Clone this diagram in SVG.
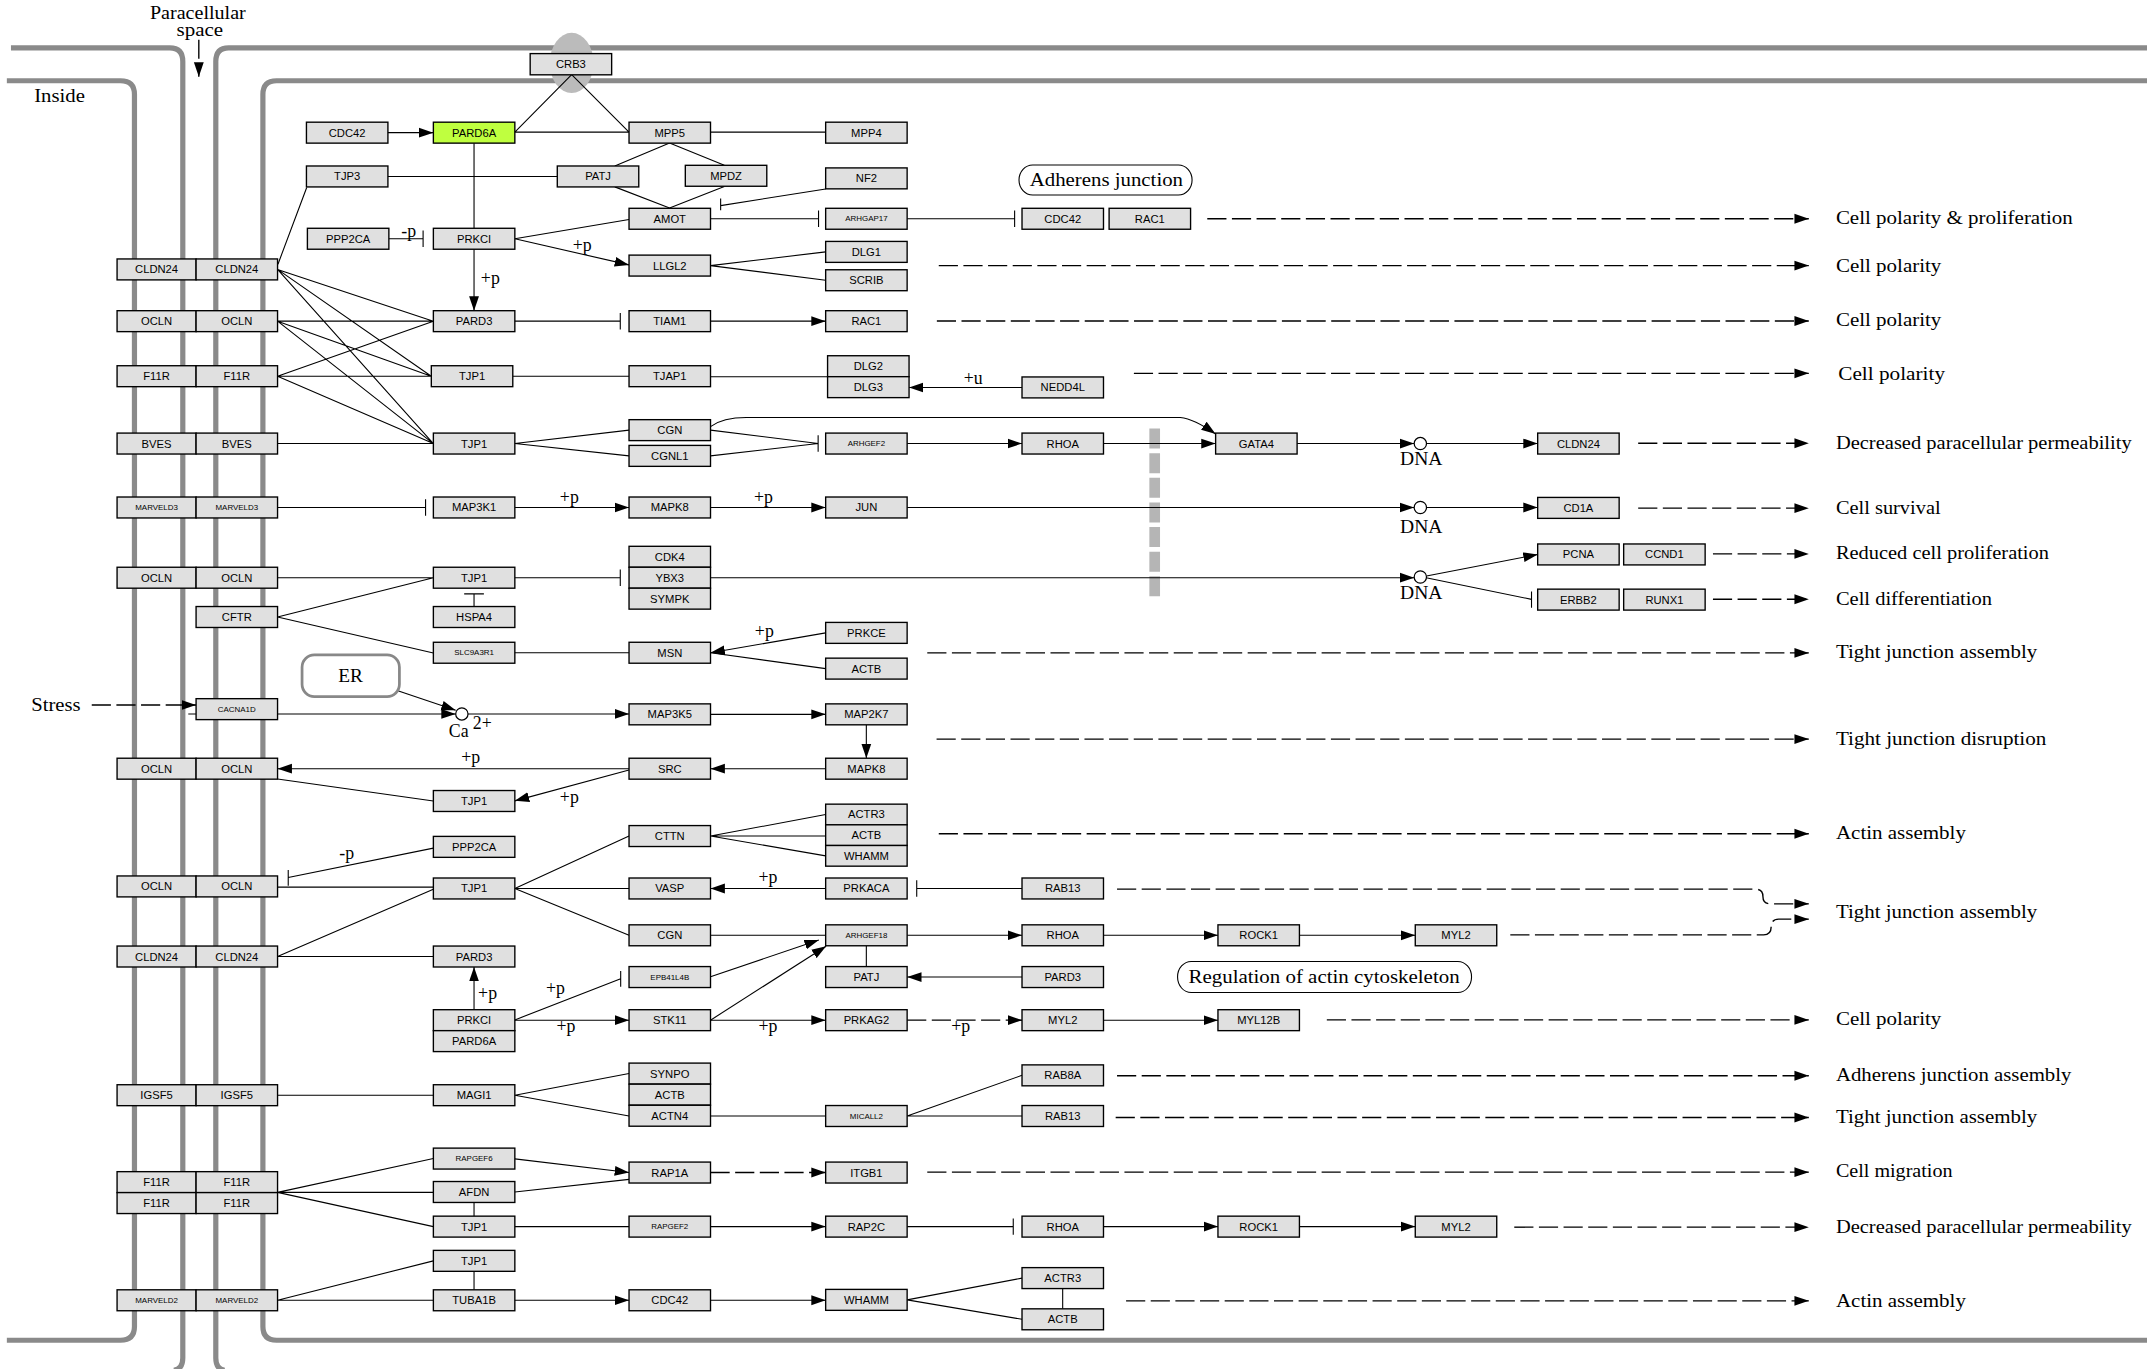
<svg xmlns="http://www.w3.org/2000/svg" width="2147" height="1369" viewBox="0 0 2147 1369">
<defs>
<style>
.n{fill:#e0e0e0;stroke:#000;stroke-width:1}
.gr{fill:#bfff3f}
.t{font-family:"Liberation Sans",Arial,sans-serif;font-size:8.2px;text-anchor:middle;dominant-baseline:central;fill:#000}
.s{font-size:5.8px}
.l{fill:none;stroke:#000;stroke-width:0.8}
.a{marker-end:url(#ah)}
.d{fill:none;stroke:#000;stroke-width:1;stroke-dasharray:14 4}
.m{fill:none;stroke:#8a8a8a;stroke-width:3.8}
.sf{font-family:"Liberation Serif","Times New Roman",serif;font-size:13px;dominant-baseline:central;fill:#000}
.pm{font-family:"Liberation Serif","Times New Roman",serif;font-size:13px;dominant-baseline:central;text-anchor:middle;fill:#000}
.rb{fill:#fff;stroke:#000;stroke-width:0.8}
</style>
<marker id="ah" markerUnits="userSpaceOnUse" markerWidth="11" markerHeight="8" refX="10.5" refY="4" orient="auto"><path d="M0,0.4 L10.5,4 L0,7.6z" fill="#000"/></marker>
</defs>
<rect width="2147" height="1369" fill="#fff"/>
<g transform="scale(1.36926,1.369)">
<g id="membrane">
<path class="m" d="M8,35 H124 Q133.5,35 133.5,45 V992 Q133.5,1000 127,1001"/>
<path class="m" d="M1568,35 H167 Q157.6,35 157.6,45 V992 Q157.6,1000 164,1001"/>
<path class="m" d="M5,59 H88 Q98.2,59 98.2,69 V969 Q98.2,979 88,979 H5"/>
<path class="m" d="M1568,59 H202 Q192,59 192,69 V969 Q192,979 202,979 H1568"/>
<ellipse cx="417.5" cy="46" rx="16" ry="22" fill="#bbbbbb"/>
<path d="M843.3,313V436" fill="none" stroke="#b5b5b5" stroke-width="7.8" stroke-dasharray="14.6 3.4"/>
</g>
<g id="labels">
<text class="sf" x="144.5" y="9.4" text-anchor="middle" font-size="8.4" textLength="70" lengthAdjust="spacingAndGlyphs">Paracellular</text>
<text class="sf" x="146" y="21.9" text-anchor="middle" font-size="8.4" textLength="34" lengthAdjust="spacingAndGlyphs">space</text>
<text class="sf" x="25" y="69.9" textLength="37" lengthAdjust="spacingAndGlyphs">Inside</text>
<text class="sf" x="22.8" y="515" textLength="36" lengthAdjust="spacingAndGlyphs">Stress</text>
<text class="sf" x="327.8" y="534" font-size="12">Ca</text>
<text class="sf" x="345.3" y="528" font-size="11">2+</text>
<text class="sf" x="1022.5" y="335.2" textLength="31" lengthAdjust="spacingAndGlyphs">DNA</text>
<text class="sf" x="1022.5" y="385.1" textLength="31" lengthAdjust="spacingAndGlyphs">DNA</text>
<text class="sf" x="1022.5" y="433.3" textLength="31" lengthAdjust="spacingAndGlyphs">DNA</text>
<text class="sf" x="1340.8" y="159.5" textLength="173" lengthAdjust="spacingAndGlyphs">Cell polarity &amp; proliferation</text>
<text class="sf" x="1340.8" y="194" textLength="77" lengthAdjust="spacingAndGlyphs">Cell polarity</text>
<text class="sf" x="1340.8" y="234" textLength="77" lengthAdjust="spacingAndGlyphs">Cell polarity</text>
<text class="sf" x="1342.5" y="273" textLength="78" lengthAdjust="spacingAndGlyphs">Cell polarity</text>
<text class="sf" x="1340.8" y="323.5" textLength="216" lengthAdjust="spacingAndGlyphs">Decreased paracellular permeability</text>
<text class="sf" x="1340.8" y="371" textLength="76.5" lengthAdjust="spacingAndGlyphs">Cell survival</text>
<text class="sf" x="1340.8" y="404.3" textLength="155.6" lengthAdjust="spacingAndGlyphs">Reduced cell proliferation</text>
<text class="sf" x="1340.8" y="437.5" textLength="114" lengthAdjust="spacingAndGlyphs">Cell differentiation</text>
<text class="sf" x="1340.8" y="476" textLength="147" lengthAdjust="spacingAndGlyphs">Tight junction assembly</text>
<text class="sf" x="1340.8" y="540" textLength="153.7" lengthAdjust="spacingAndGlyphs">Tight junction disruption</text>
<text class="sf" x="1340.8" y="608.5" textLength="95" lengthAdjust="spacingAndGlyphs">Actin assembly</text>
<text class="sf" x="1340.8" y="666" textLength="147" lengthAdjust="spacingAndGlyphs">Tight junction assembly</text>
<text class="sf" x="1340.8" y="744.5" textLength="77" lengthAdjust="spacingAndGlyphs">Cell polarity</text>
<text class="sf" x="1340.8" y="785.5" textLength="172" lengthAdjust="spacingAndGlyphs">Adherens junction assembly</text>
<text class="sf" x="1340.8" y="816" textLength="147" lengthAdjust="spacingAndGlyphs">Tight junction assembly</text>
<text class="sf" x="1340.8" y="855.5" textLength="85.2" lengthAdjust="spacingAndGlyphs">Cell migration</text>
<text class="sf" x="1340.8" y="896" textLength="216" lengthAdjust="spacingAndGlyphs">Decreased paracellular permeability</text>
<text class="sf" x="1340.8" y="950" textLength="95" lengthAdjust="spacingAndGlyphs">Actin assembly</text>
<text class="pm" x="358.1" y="202.8">+p</text>
<text class="pm" x="425.2" y="179">+p</text>
<text class="pm" x="298.5" y="168.5">-p</text>
<text class="pm" x="710.8" y="276.3">+u</text>
<text class="pm" x="415.8" y="363.2">+p</text>
<text class="pm" x="557.5" y="363.2">+p</text>
<text class="pm" x="558.2" y="460.6">+p</text>
<text class="pm" x="343.7" y="553">+p</text>
<text class="pm" x="415.8" y="582.3">+p</text>
<text class="pm" x="253.2" y="623.2">-p</text>
<text class="pm" x="560.9" y="640.7">+p</text>
<text class="pm" x="356.1" y="725">+p</text>
<text class="pm" x="405.7" y="722">+p</text>
<text class="pm" x="413.4" y="749.8">+p</text>
<text class="pm" x="560.9" y="749.8">+p</text>
<text class="pm" x="701.7" y="749.8">+p</text>
</g>
<g id="connectors">
<path class="l" d="M417.5,54.5L376,96.5M417.5,54.5L459.4,96.5M376,96.5H459.4M518.9,96.5H603M489,104.5L449,121.2M489,104.5L529,120.7M449,136.5L489,152M529,136.3L489,152M282.6,128.9H407M224,137L203,193M346.2,104.6V166.7"/>
<path class="l" d="M284,174.4H309M309,168.4V180.4M376,174.4L459.4,160.3M518.9,159.8H597.8M597.8,153.8V165.8M603,138L526.3,150.2M526.3,145V153.5M662.5,159.8H741M741,153.8V165.8M518.9,194L603,184M518.9,194L603,204.7M376,234.6H453M453,228.6V240.6"/>
<path class="l" d="M202.7,196.8L316.5,234.6M202.7,196.8L315,274.8M202.7,196.8L316.5,324M202.7,234.6H316.5M202.7,234.6L315,274.8M202.7,234.6L316.5,324M202.7,274.8L316.5,234.6M202.7,274.8H315M202.7,274.8L316.5,324"/>
<path class="l" d="M374.5,274.8H459.4M518.9,275.2H604.4M202.7,324H316.5M376,324L459.4,314.2M376,324L459.4,333M518.9,314.2L597.5,324M518.9,333L597.5,324M597.5,318V330M202.7,370.7H310.8M310.8,364.7V376.7M202.7,422H316.5M376,422H453M453,416V428M1041.5,422L1118.5,437.8M1118.5,432V444M346.2,443V433.8M339,433.8H353.4M202.7,450.7L316.5,422M202.7,450.7L316.5,477M376,476.8H459.4M603,488.4L518.9,476.8M137.5,521.5H143.2"/>
<path class="l" d="M202.7,569L316.5,585.1M316.5,619.5L210.5,641M210.5,635.5V647M202.7,648H316.5M202.7,698.7L316.5,649.5M202.7,698.7H316.5M376,649L459.4,610.7M376,649H459.4M376,649L459.4,683.2M518.9,610.7L603,595M518.9,610.7H603M518.9,610.7L603,625.2M746.4,649H669.5M669.5,643V655M518.9,683.2H603M632.7,690.9V706M376,745L453.3,715M453.3,709.3V720.7"/>
<path class="l" d="M202.7,800H316.5M376,800L459.4,784.2M376,800L459.4,815.2M518.9,815.2H603M662.5,815.2L746.4,785.5M662.5,815.2H746.4M202.7,871L316.5,846.3M202.7,871H316.5M202.7,871L316.5,896M376,870.7L459.4,861.5M346.2,878.4V888.4M376,896H459.4M662.5,896H740M740,890V902M202.7,949.8L316.5,921M202.7,949.8H316.5M346.2,928.7V942.1M662.5,949.5L746.4,933.6M662.5,949.5L746.4,963.7M776.1,941.3V956"/>
<path class="l a" d="M282.6,96.9H316.5"/>
<path class="l a" d="M346.2,182.1V226.9"/>
<path class="l a" d="M376,174.4L459.4,193.5"/>
<path class="l a" d="M518.9,234.6H603"/>
<path class="l a" d="M746.4,283H663.9"/>
<path class="l a" d="M518.9,311.6Q528,305 545,305L862,305Q872,306 887.8,317"/>
<path class="l a" d="M662.5,324H746.4"/>
<path class="l a" d="M805.9,324H887.8"/>
<path class="l a" d="M947.3,324H1032.8"/>
<path class="l a" d="M1041.8,324H1123"/>
<path class="l a" d="M376,370.7H459.4"/>
<path class="l a" d="M518.9,370.7H603"/>
<path class="l a" d="M662.5,370.7H1032.8"/>
<path class="l a" d="M1041.8,370.7H1123"/>
<path class="l a" d="M518.9,422H1032.8"/>
<path class="l a" d="M1041.8,420.7L1123,405"/>
<path class="l a" d="M603,462.3L518.9,476.8"/>
<path class="l a" d="M290,504.4L332.8,518.8"/>
<path class="l a" d="M202.7,521.5H332.8"/>
<path class="l a" d="M341.8,521.5H459.4"/>
<path class="l a" d="M518.9,521.8H603"/>
<path class="l a" d="M632.7,529.5V553.8"/>
<path class="l a" d="M603,561.5H518.9"/>
<path class="l a" d="M459.4,561.5H202.7"/>
<path class="l a" d="M459.4,562.5L376,585"/>
<path class="l a" d="M603,649H518.9"/>
<path class="l a" d="M518.9,713.5L598,686.6"/>
<path class="l a" d="M518.9,745.2L603.3,691.2"/>
<path class="l a" d="M662.5,683.2H746.4"/>
<path class="l a" d="M805.9,683.2H889.5"/>
<path class="l a" d="M949,683.2H1033.6"/>
<path class="l a" d="M746.4,713.7H662.5"/>
<path class="l a" d="M346.2,737.6V706.4"/>
<path class="l a" d="M376,745.2H459.4"/>
<path class="l a" d="M518.9,745.2H603"/>
<path class="l a" d="M805.9,745.2H889.5"/>
<path class="l a" d="M376,846.5L459.4,856.5"/>
<path class="l a" d="M518.9,896H603"/>
<path class="l a" d="M805.9,896H889.5"/>
<path class="l a" d="M949,896H1033.6"/>
<path class="l a" d="M376,949.8H459.4"/>
<path class="l a" d="M518.9,949.8H603"/>
<path class="d a" d="M145.2,29V56"/>
<path class="d a" d="M67,515H143.2"/>
<path class="d a" d="M518.9,856.5H603"/>
<path class="d a" d="M662.5,745.2H746.4"/>
<path class="d a" d="M881.7,159.8H1321"/>
<path class="d a" d="M685.6,194H1321"/>
<path class="d a" d="M684.2,234.5H1321"/>
<path class="d a" d="M828.1,272.7H1321"/>
<path class="d a" d="M1196.4,323.8H1321"/>
<path class="d a" d="M1196.4,371.2H1321"/>
<path class="d a" d="M1251,404.6H1321"/>
<path class="d a" d="M1251,437.7H1321"/>
<path class="d a" d="M677.2,476.9H1321"/>
<path class="d a" d="M684,539.9H1321"/>
<path class="d a" d="M685.6,609H1321"/>
<path class="d a" d="M815.8,649.5H1282Q1287.5,649.5 1287.5,654.8Q1287.5,660.2 1293,660.2H1321"/>
<path class="d a" d="M1103,682.9H1288Q1293.5,682.9 1293.5,677.2Q1293.5,671.4 1299,671.4H1321"/>
<path class="d a" d="M969,745H1321"/>
<path class="d a" d="M815.8,785.8H1321"/>
<path class="d a" d="M814.8,816.3H1321"/>
<path class="d a" d="M677.2,856.2H1321"/>
<path class="d a" d="M1105.9,896.4H1321"/>
<path class="d a" d="M822.4,950.2H1321"/>
</g>
<g id="n_dna1"><circle cx="1037.3" cy="324" r="4.5" fill="#fff" stroke="#000" stroke-width="0.9"/></g>
<g id="n_dna2"><circle cx="1037.3" cy="370.7" r="4.5" fill="#fff" stroke="#000" stroke-width="0.9"/></g>
<g id="n_dna3"><circle cx="1037.3" cy="421.5" r="4.5" fill="#fff" stroke="#000" stroke-width="0.9"/></g>
<g id="n_ca"><circle cx="337.3" cy="521.5" r="4.5" fill="#fff" stroke="#000" stroke-width="0.9"/></g>
<g id="n_er"><rect x="220.6" y="478.4" width="71.1" height="30.4" rx="9" fill="#fff" stroke="#888" stroke-width="2"/><text class="sf" x="256.1" y="494" text-anchor="middle" textLength="18" lengthAdjust="spacingAndGlyphs">ER</text></g>
<g id="n_adherens"><rect class="rb" x="744.2" y="120.5" width="126.4" height="21.9" rx="10" ry="10.9"/><text class="sf" x="752" y="131.5" textLength="112" lengthAdjust="spacingAndGlyphs">Adherens junction</text></g>
<g id="n_regactin"><rect class="rb" x="860" y="702.3" width="214.7" height="22.7" rx="10" ry="11.3"/><text class="sf" x="868" y="713.7" textLength="198" lengthAdjust="spacingAndGlyphs">Regulation of actin cytoskeleton</text></g>
<g id="n_crb3"><rect class="n" x="387.2" y="39.15" width="59.5" height="15.5"/><text class="t" x="416.95" y="46.9">CRB3</text></g>
<g id="n_cdc42_1"><rect class="n" x="223.8" y="89.25" width="59.5" height="15.3"/><text class="t" x="253.55" y="96.9">CDC42</text></g>
<g id="n_pard6a_1"><rect class="n gr" x="316.5" y="89.25" width="59.5" height="15.3"/><text class="t" x="346.25" y="96.9">PARD6A</text></g>
<g id="n_mpp5"><rect class="n" x="459.4" y="89.25" width="59.5" height="15.3"/><text class="t" x="489.15" y="96.9">MPP5</text></g>
<g id="n_mpp4"><rect class="n" x="603" y="89.25" width="59.5" height="15.3"/><text class="t" x="632.75" y="96.9">MPP4</text></g>
<g id="n_tjp3"><rect class="n" x="223.8" y="121.25" width="59.5" height="15.3"/><text class="t" x="253.55" y="128.9">TJP3</text></g>
<g id="n_patj_1"><rect class="n" x="407" y="121.25" width="59.5" height="15.3"/><text class="t" x="436.75" y="128.9">PATJ</text></g>
<g id="n_mpdz"><rect class="n" x="500.5" y="120.75" width="59.5" height="15.3"/><text class="t" x="530.25" y="128.4">MPDZ</text></g>
<g id="n_nf2"><rect class="n" x="603" y="122.65" width="59.5" height="15.3"/><text class="t" x="632.75" y="130.3">NF2</text></g>
<g id="n_amot"><rect class="n" x="459.4" y="152.15" width="59.5" height="15.3"/><text class="t" x="489.15" y="159.8">AMOT</text></g>
<g id="n_arhgap17"><rect class="n" x="603" y="152.15" width="59.5" height="15.3"/><text class="t s" x="632.75" y="159.8">ARHGAP17</text></g>
<g id="n_cdc42_2"><rect class="n" x="746.4" y="152.15" width="59.5" height="15.3"/><text class="t" x="776.15" y="159.8">CDC42</text></g>
<g id="n_rac1_1"><rect class="n" x="810" y="152.15" width="59.5" height="15.3"/><text class="t" x="839.75" y="159.8">RAC1</text></g>
<g id="n_ppp2ca_1"><rect class="n" x="224.5" y="166.75" width="59.5" height="15.3"/><text class="t" x="254.25" y="174.4">PPP2CA</text></g>
<g id="n_prkci_1"><rect class="n" x="316.5" y="166.75" width="59.5" height="15.3"/><text class="t" x="346.25" y="174.4">PRKCI</text></g>
<g id="n_llgl2"><rect class="n" x="459.4" y="186.35" width="59.5" height="15.3"/><text class="t" x="489.15" y="194">LLGL2</text></g>
<g id="n_dlg1"><rect class="n" x="603" y="176.35" width="59.5" height="15.3"/><text class="t" x="632.75" y="184">DLG1</text></g>
<g id="n_scrib"><rect class="n" x="603" y="197.05" width="59.5" height="15.3"/><text class="t" x="632.75" y="204.7">SCRIB</text></g>
<g id="n_cldn24_a"><rect class="n" x="85.5" y="189.15" width="57.7" height="15.3"/><text class="t" x="114.35" y="196.8">CLDN24</text><rect class="n" x="143.2" y="189.15" width="59.5" height="15.3"/><text class="t" x="172.95" y="196.8">CLDN24</text></g>
<g id="n_ocln_a"><rect class="n" x="85.5" y="226.95" width="57.7" height="15.3"/><text class="t" x="114.35" y="234.6">OCLN</text><rect class="n" x="143.2" y="226.95" width="59.5" height="15.3"/><text class="t" x="172.95" y="234.6">OCLN</text></g>
<g id="n_pard3_1"><rect class="n" x="316.5" y="226.95" width="59.5" height="15.3"/><text class="t" x="346.25" y="234.6">PARD3</text></g>
<g id="n_tiam1"><rect class="n" x="459.4" y="226.95" width="59.5" height="15.3"/><text class="t" x="489.15" y="234.6">TIAM1</text></g>
<g id="n_rac1_2"><rect class="n" x="603" y="226.95" width="59.5" height="15.3"/><text class="t" x="632.75" y="234.6">RAC1</text></g>
<g id="n_f11r_a"><rect class="n" x="85.5" y="267.15" width="57.7" height="15.3"/><text class="t" x="114.35" y="274.8">F11R</text><rect class="n" x="143.2" y="267.15" width="59.5" height="15.3"/><text class="t" x="172.95" y="274.8">F11R</text></g>
<g id="n_tjp1_1"><rect class="n" x="315" y="267.15" width="59.5" height="15.3"/><text class="t" x="344.75" y="274.8">TJP1</text></g>
<g id="n_tjap1"><rect class="n" x="459.4" y="267.15" width="59.5" height="15.3"/><text class="t" x="489.15" y="274.8">TJAP1</text></g>
<g id="n_dlg2"><rect class="n" x="604.4" y="259.85" width="59.5" height="15.3"/><text class="t" x="634.15" y="267.5">DLG2</text></g>
<g id="n_dlg3"><rect class="n" x="604.4" y="275.15" width="59.5" height="15.3"/><text class="t" x="634.15" y="282.8">DLG3</text></g>
<g id="n_nedd4l"><rect class="n" x="746.4" y="275.35" width="59.5" height="15.3"/><text class="t" x="776.15" y="283">NEDD4L</text></g>
<g id="n_bves"><rect class="n" x="85.5" y="316.35" width="57.7" height="15.3"/><text class="t" x="114.35" y="324">BVES</text><rect class="n" x="143.2" y="316.35" width="59.5" height="15.3"/><text class="t" x="172.95" y="324">BVES</text></g>
<g id="n_tjp1_2"><rect class="n" x="316.5" y="316.35" width="59.5" height="15.3"/><text class="t" x="346.25" y="324">TJP1</text></g>
<g id="n_cgn_1"><rect class="n" x="459.4" y="306.55" width="59.5" height="15.3"/><text class="t" x="489.15" y="314.2">CGN</text></g>
<g id="n_cgnl1"><rect class="n" x="459.4" y="325.35" width="59.5" height="15.3"/><text class="t" x="489.15" y="333">CGNL1</text></g>
<g id="n_arhgef2"><rect class="n" x="603" y="316.35" width="59.5" height="15.3"/><text class="t s" x="632.75" y="324">ARHGEF2</text></g>
<g id="n_rhoa_1"><rect class="n" x="746.4" y="316.35" width="59.5" height="15.3"/><text class="t" x="776.15" y="324">RHOA</text></g>
<g id="n_gata4"><rect class="n" x="887.8" y="316.35" width="59.5" height="15.3"/><text class="t" x="917.55" y="324">GATA4</text></g>
<g id="n_cldn24_c"><rect class="n" x="1123" y="316.35" width="59.5" height="15.3"/><text class="t" x="1152.75" y="324">CLDN24</text></g>
<g id="n_marveld3"><rect class="n" x="85.5" y="363.05" width="57.7" height="15.3"/><text class="t s" x="114.35" y="370.7">MARVELD3</text><rect class="n" x="143.2" y="363.05" width="59.5" height="15.3"/><text class="t s" x="172.95" y="370.7">MARVELD3</text></g>
<g id="n_map3k1"><rect class="n" x="316.5" y="363.05" width="59.5" height="15.3"/><text class="t" x="346.25" y="370.7">MAP3K1</text></g>
<g id="n_mapk8_1"><rect class="n" x="459.4" y="363.05" width="59.5" height="15.3"/><text class="t" x="489.15" y="370.7">MAPK8</text></g>
<g id="n_jun"><rect class="n" x="603" y="363.05" width="59.5" height="15.3"/><text class="t" x="632.75" y="370.7">JUN</text></g>
<g id="n_cd1a"><rect class="n" x="1123" y="363.35" width="59.5" height="15.3"/><text class="t" x="1152.75" y="371">CD1A</text></g>
<g id="n_ocln_b"><rect class="n" x="85.5" y="414.35" width="57.7" height="15.3"/><text class="t" x="114.35" y="422">OCLN</text><rect class="n" x="143.2" y="414.35" width="59.5" height="15.3"/><text class="t" x="172.95" y="422">OCLN</text></g>
<g id="n_tjp1_3"><rect class="n" x="316.5" y="414.35" width="59.5" height="15.3"/><text class="t" x="346.25" y="422">TJP1</text></g>
<g id="n_cdk4"><rect class="n" x="459.4" y="399.05" width="59.5" height="15.3"/><text class="t" x="489.15" y="406.7">CDK4</text></g>
<g id="n_ybx3"><rect class="n" x="459.4" y="414.35" width="59.5" height="15.3"/><text class="t" x="489.15" y="422">YBX3</text></g>
<g id="n_sympk"><rect class="n" x="459.4" y="429.65" width="59.5" height="15.3"/><text class="t" x="489.15" y="437.3">SYMPK</text></g>
<g id="n_pcna"><rect class="n" x="1123" y="397.35" width="59.5" height="15.3"/><text class="t" x="1152.75" y="405">PCNA</text></g>
<g id="n_ccnd1"><rect class="n" x="1185.8" y="397.35" width="59.5" height="15.3"/><text class="t" x="1215.55" y="405">CCND1</text></g>
<g id="n_erbb2"><rect class="n" x="1123" y="430.35" width="59.5" height="15.3"/><text class="t" x="1152.75" y="438">ERBB2</text></g>
<g id="n_runx1"><rect class="n" x="1185.8" y="430.35" width="59.5" height="15.3"/><text class="t" x="1215.55" y="438">RUNX1</text></g>
<g id="n_cftr"><rect class="n" x="143.2" y="443.05" width="59.5" height="15.3"/><text class="t" x="172.95" y="450.7">CFTR</text></g>
<g id="n_hspa4"><rect class="n" x="316.5" y="443.05" width="59.5" height="15.3"/><text class="t" x="346.25" y="450.7">HSPA4</text></g>
<g id="n_slc9a3r1"><rect class="n" x="316.5" y="469.15" width="59.5" height="15.3"/><text class="t s" x="346.25" y="476.8">SLC9A3R1</text></g>
<g id="n_msn"><rect class="n" x="459.4" y="469.15" width="59.5" height="15.3"/><text class="t" x="489.15" y="476.8">MSN</text></g>
<g id="n_prkce"><rect class="n" x="603" y="454.65" width="59.5" height="15.3"/><text class="t" x="632.75" y="462.3">PRKCE</text></g>
<g id="n_actb_1"><rect class="n" x="603" y="480.75" width="59.5" height="15.3"/><text class="t" x="632.75" y="488.4">ACTB</text></g>
<g id="n_cacna1d"><rect class="n" x="143.2" y="510.35" width="59.5" height="15.3"/><text class="t s" x="172.95" y="518">CACNA1D</text></g>
<g id="n_map3k5"><rect class="n" x="459.4" y="514.15" width="59.5" height="15.3"/><text class="t" x="489.15" y="521.8">MAP3K5</text></g>
<g id="n_map2k7"><rect class="n" x="603" y="514.15" width="59.5" height="15.3"/><text class="t" x="632.75" y="521.8">MAP2K7</text></g>
<g id="n_ocln_c"><rect class="n" x="85.5" y="553.85" width="57.7" height="15.3"/><text class="t" x="114.35" y="561.5">OCLN</text><rect class="n" x="143.2" y="553.85" width="59.5" height="15.3"/><text class="t" x="172.95" y="561.5">OCLN</text></g>
<g id="n_src"><rect class="n" x="459.4" y="553.85" width="59.5" height="15.3"/><text class="t" x="489.15" y="561.5">SRC</text></g>
<g id="n_mapk8_2"><rect class="n" x="603" y="553.85" width="59.5" height="15.3"/><text class="t" x="632.75" y="561.5">MAPK8</text></g>
<g id="n_tjp1_4"><rect class="n" x="316.5" y="577.45" width="59.5" height="15.3"/><text class="t" x="346.25" y="585.1">TJP1</text></g>
<g id="n_ppp2ca_2"><rect class="n" x="316.5" y="610.95" width="59.5" height="15.3"/><text class="t" x="346.25" y="618.6">PPP2CA</text></g>
<g id="n_cttn"><rect class="n" x="459.4" y="603.05" width="59.5" height="15.3"/><text class="t" x="489.15" y="610.7">CTTN</text></g>
<g id="n_actr3_1"><rect class="n" x="603" y="587.4" width="59.5" height="15.1"/><text class="t" x="632.75" y="594.95">ACTR3</text></g>
<g id="n_actb_2"><rect class="n" x="603" y="602.5" width="59.5" height="15.1"/><text class="t" x="632.75" y="610.05">ACTB</text></g>
<g id="n_whamm_1"><rect class="n" x="603" y="617.6" width="59.5" height="15.1"/><text class="t" x="632.75" y="625.15">WHAMM</text></g>
<g id="n_ocln_d"><rect class="n" x="85.5" y="639.85" width="57.7" height="15.3"/><text class="t" x="114.35" y="647.5">OCLN</text><rect class="n" x="143.2" y="639.85" width="59.5" height="15.3"/><text class="t" x="172.95" y="647.5">OCLN</text></g>
<g id="n_tjp1_5"><rect class="n" x="316.5" y="641.35" width="59.5" height="15.3"/><text class="t" x="346.25" y="649">TJP1</text></g>
<g id="n_vasp"><rect class="n" x="459.4" y="641.35" width="59.5" height="15.3"/><text class="t" x="489.15" y="649">VASP</text></g>
<g id="n_prkaca"><rect class="n" x="603" y="641.35" width="59.5" height="15.3"/><text class="t" x="632.75" y="649">PRKACA</text></g>
<g id="n_rab13_1"><rect class="n" x="746.4" y="641.35" width="59.5" height="15.3"/><text class="t" x="776.15" y="649">RAB13</text></g>
<g id="n_cgn_2"><rect class="n" x="459.4" y="675.55" width="59.5" height="15.3"/><text class="t" x="489.15" y="683.2">CGN</text></g>
<g id="n_arhgef18"><rect class="n" x="603" y="675.55" width="59.5" height="15.3"/><text class="t s" x="632.75" y="683.2">ARHGEF18</text></g>
<g id="n_rhoa_2"><rect class="n" x="746.4" y="675.55" width="59.5" height="15.3"/><text class="t" x="776.15" y="683.2">RHOA</text></g>
<g id="n_rock1_1"><rect class="n" x="889.5" y="675.55" width="59.5" height="15.3"/><text class="t" x="919.25" y="683.2">ROCK1</text></g>
<g id="n_myl2_1"><rect class="n" x="1033.6" y="675.55" width="59.5" height="15.3"/><text class="t" x="1063.35" y="683.2">MYL2</text></g>
<g id="n_cldn24_b"><rect class="n" x="85.5" y="691.05" width="57.7" height="15.3"/><text class="t" x="114.35" y="698.7">CLDN24</text><rect class="n" x="143.2" y="691.05" width="59.5" height="15.3"/><text class="t" x="172.95" y="698.7">CLDN24</text></g>
<g id="n_pard3_2"><rect class="n" x="316.5" y="691.05" width="59.5" height="15.3"/><text class="t" x="346.25" y="698.7">PARD3</text></g>
<g id="n_epb41l4b"><rect class="n" x="459.4" y="706.05" width="59.5" height="15.3"/><text class="t s" x="489.15" y="713.7">EPB41L4B</text></g>
<g id="n_patj_2"><rect class="n" x="603" y="706.05" width="59.5" height="15.3"/><text class="t" x="632.75" y="713.7">PATJ</text></g>
<g id="n_pard3_3"><rect class="n" x="746.4" y="706.05" width="59.5" height="15.3"/><text class="t" x="776.15" y="713.7">PARD3</text></g>
<g id="n_prkci_2"><rect class="n" x="316.5" y="737.55" width="59.5" height="15.3"/><text class="t" x="346.25" y="745.2">PRKCI</text></g>
<g id="n_pard6a_2"><rect class="n" x="316.5" y="752.85" width="59.5" height="15.3"/><text class="t" x="346.25" y="760.5">PARD6A</text></g>
<g id="n_stk11"><rect class="n" x="459.4" y="737.55" width="59.5" height="15.3"/><text class="t" x="489.15" y="745.2">STK11</text></g>
<g id="n_prkag2"><rect class="n" x="603" y="737.55" width="59.5" height="15.3"/><text class="t" x="632.75" y="745.2">PRKAG2</text></g>
<g id="n_myl2_2"><rect class="n" x="746.4" y="737.55" width="59.5" height="15.3"/><text class="t" x="776.15" y="745.2">MYL2</text></g>
<g id="n_myl12b"><rect class="n" x="889.5" y="737.55" width="59.5" height="15.3"/><text class="t" x="919.25" y="745.2">MYL12B</text></g>
<g id="n_igsf5"><rect class="n" x="85.5" y="792.35" width="57.7" height="15.3"/><text class="t" x="114.35" y="800">IGSF5</text><rect class="n" x="143.2" y="792.35" width="59.5" height="15.3"/><text class="t" x="172.95" y="800">IGSF5</text></g>
<g id="n_magi1"><rect class="n" x="316.5" y="792.35" width="59.5" height="15.3"/><text class="t" x="346.25" y="800">MAGI1</text></g>
<g id="n_synpo"><rect class="n" x="459.4" y="776.55" width="59.5" height="15.3"/><text class="t" x="489.15" y="784.2">SYNPO</text></g>
<g id="n_actb_3"><rect class="n" x="459.4" y="791.95" width="59.5" height="15.3"/><text class="t" x="489.15" y="799.6">ACTB</text></g>
<g id="n_actn4"><rect class="n" x="459.4" y="807.35" width="59.5" height="15.3"/><text class="t" x="489.15" y="815">ACTN4</text></g>
<g id="n_micall2"><rect class="n" x="603" y="807.55" width="59.5" height="15.3"/><text class="t s" x="632.75" y="815.2">MICALL2</text></g>
<g id="n_rab8a"><rect class="n" x="746.4" y="777.85" width="59.5" height="15.3"/><text class="t" x="776.15" y="785.5">RAB8A</text></g>
<g id="n_rab13_2"><rect class="n" x="746.4" y="807.55" width="59.5" height="15.3"/><text class="t" x="776.15" y="815.2">RAB13</text></g>
<g id="n_rapgef6"><rect class="n" x="316.5" y="838.65" width="59.5" height="15.3"/><text class="t s" x="346.25" y="846.3">RAPGEF6</text></g>
<g id="n_f11r_b"><rect class="n" x="85.5" y="855.85" width="57.7" height="15.3"/><text class="t" x="114.35" y="863.5">F11R</text><rect class="n" x="143.2" y="855.85" width="59.5" height="15.3"/><text class="t" x="172.95" y="863.5">F11R</text></g>
<g id="n_f11r_c"><rect class="n" x="85.5" y="871.15" width="57.7" height="15.3"/><text class="t" x="114.35" y="878.8">F11R</text><rect class="n" x="143.2" y="871.15" width="59.5" height="15.3"/><text class="t" x="172.95" y="878.8">F11R</text></g>
<g id="n_afdn"><rect class="n" x="316.5" y="863.05" width="59.5" height="15.3"/><text class="t" x="346.25" y="870.7">AFDN</text></g>
<g id="n_rap1a"><rect class="n" x="459.4" y="848.85" width="59.5" height="15.3"/><text class="t" x="489.15" y="856.5">RAP1A</text></g>
<g id="n_itgb1"><rect class="n" x="603" y="848.85" width="59.5" height="15.3"/><text class="t" x="632.75" y="856.5">ITGB1</text></g>
<g id="n_tjp1_6"><rect class="n" x="316.5" y="888.35" width="59.5" height="15.3"/><text class="t" x="346.25" y="896">TJP1</text></g>
<g id="n_rapgef2"><rect class="n" x="459.4" y="888.35" width="59.5" height="15.3"/><text class="t s" x="489.15" y="896">RAPGEF2</text></g>
<g id="n_rap2c"><rect class="n" x="603" y="888.35" width="59.5" height="15.3"/><text class="t" x="632.75" y="896">RAP2C</text></g>
<g id="n_rhoa_3"><rect class="n" x="746.4" y="888.35" width="59.5" height="15.3"/><text class="t" x="776.15" y="896">RHOA</text></g>
<g id="n_rock1_2"><rect class="n" x="889.5" y="888.35" width="59.5" height="15.3"/><text class="t" x="919.25" y="896">ROCK1</text></g>
<g id="n_myl2_3"><rect class="n" x="1033.6" y="888.35" width="59.5" height="15.3"/><text class="t" x="1063.35" y="896">MYL2</text></g>
<g id="n_tjp1_7"><rect class="n" x="316.5" y="913.35" width="59.5" height="15.3"/><text class="t" x="346.25" y="921">TJP1</text></g>
<g id="n_marveld2"><rect class="n" x="85.5" y="942.15" width="57.7" height="15.3"/><text class="t s" x="114.35" y="949.8">MARVELD2</text><rect class="n" x="143.2" y="942.15" width="59.5" height="15.3"/><text class="t s" x="172.95" y="949.8">MARVELD2</text></g>
<g id="n_tuba1b"><rect class="n" x="316.5" y="942.15" width="59.5" height="15.3"/><text class="t" x="346.25" y="949.8">TUBA1B</text></g>
<g id="n_cdc42_3"><rect class="n" x="459.4" y="942.15" width="59.5" height="15.3"/><text class="t" x="489.15" y="949.8">CDC42</text></g>
<g id="n_whamm_2"><rect class="n" x="603" y="941.85" width="59.5" height="15.3"/><text class="t" x="632.75" y="949.5">WHAMM</text></g>
<g id="n_actr3_2"><rect class="n" x="746.4" y="925.95" width="59.5" height="15.3"/><text class="t" x="776.15" y="933.6">ACTR3</text></g>
<g id="n_actb_4"><rect class="n" x="746.4" y="956.05" width="59.5" height="15.3"/><text class="t" x="776.15" y="963.7">ACTB</text></g>
</g>
</svg>
